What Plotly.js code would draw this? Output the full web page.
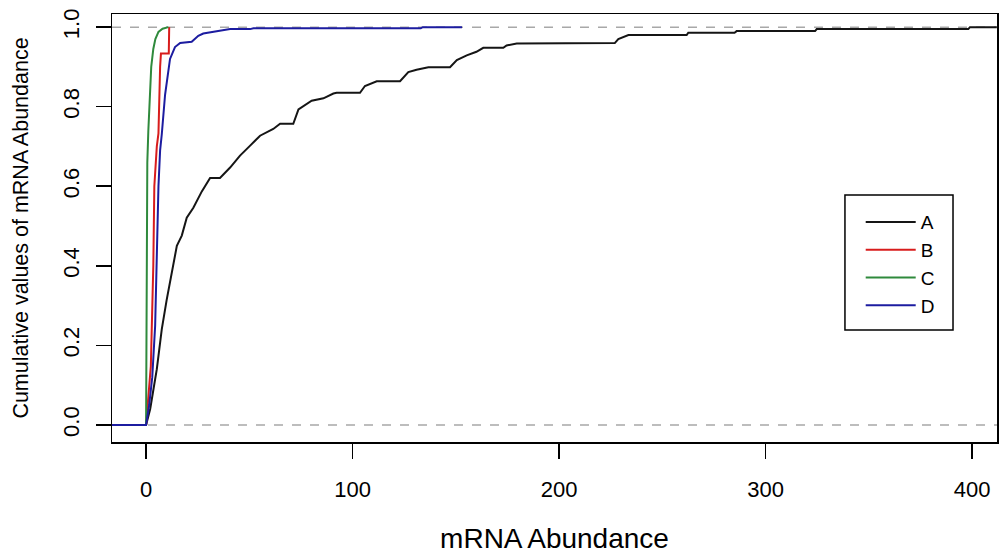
<!DOCTYPE html>
<html>
<head>
<meta charset="utf-8">
<script src="https://cdn.plot.ly/plotly-3.0.1.min.js"></script>
<style>
html, body { margin: 0; padding: 0; background: #ffffff; }
#chart { width: 999px; height: 558px; }
</style>
</head>
<body>
<div id="chart"></div>
<script>
// Series names
const seriesNames = ["A", "B", "C", "D"];

// Series A (black) — cumulative values
const aX = [0, 2, 5.2, 7.6, 10, 12.4, 14.9, 17.3, 19.7, 22.9, 27, 31, 35.8, 40.7, 45.5, 50.4, 55.2, 61.6, 64.9, 71.3, 73.8, 80.2, 85.9, 90.7, 92.3, 103.6, 106, 111.7, 123, 127, 131, 136.7, 147.2, 150.5, 155.3, 160, 163.3, 173, 174.6, 179.5, 227, 228.7, 233.6, 261.8, 262.6, 285, 286, 324, 324.8, 398.2, 399, 412];
const aY = [0, 0.04, 0.14, 0.24, 0.315, 0.385, 0.45, 0.476, 0.521, 0.546, 0.587, 0.621, 0.621, 0.647, 0.677, 0.702, 0.727, 0.744, 0.757, 0.757, 0.793, 0.815, 0.821, 0.833, 0.835, 0.835, 0.852, 0.864, 0.864, 0.887, 0.893, 0.899, 0.899, 0.917, 0.929, 0.938, 0.948, 0.948, 0.954, 0.959, 0.96, 0.97, 0.98, 0.98, 0.986, 0.986, 0.99, 0.99, 0.995, 0.995, 1.0, 1.0];

// Series B (red)
const bX = [0, 0.5, 2.3, 3.5, 4.0, 5.2, 6.0, 6.8, 7.2, 11.0, 11.2];
const bY = [0, 0.03, 0.147, 0.40, 0.60, 0.70, 0.733, 0.90, 0.934, 0.934, 1.0];

// Series C (green)
const cX = [0, 0.1, 0.3, 0.6, 1.1, 1.9, 2.5, 3.5, 4.5, 6.0, 8.0, 10.8];
const cY = [0, 0.1, 0.55, 0.66, 0.74, 0.84, 0.90, 0.945, 0.97, 0.988, 0.996, 1.0];

// Series D (blue)
const dX = [-16.5, 0, 1.5, 3.0, 4.4, 5.2, 6.0, 6.8, 7.6, 9.2, 10.5, 11.6, 14, 16.5, 22.1, 23.7, 25.3, 27.7, 31.8, 35.8, 40.7, 50.4, 52, 133, 134, 153];
const dY = [0, 0, 0.05, 0.12, 0.25, 0.44, 0.60, 0.69, 0.73, 0.83, 0.88, 0.92, 0.95, 0.96, 0.963, 0.971, 0.978, 0.984, 0.988, 0.992, 0.995, 0.995, 0.997, 0.997, 1.0, 1.0];

// Axis ticks
const xTicks = [0, 100, 200, 300, 400];
const xTickText = ["0", "100", "200", "300", "400"];
const yTicks = [0, 0.2, 0.4, 0.6, 0.8, 1.0];
const yTickText = ["0.0", "0.2", "0.4", "0.6", "0.8", "1.0"];

const colors = ["#151515", "#d81c1c", "#2f8a3c", "#1c1ca0"];
const xs = [aX, bX, cX, dX];
const ys = [aY, bY, cY, dY];

const traces = seriesNames.map((n, i) => ({
  type: "scatter",
  mode: "lines",
  name: n,
  x: xs[i],
  y: ys[i],
  line: { color: colors[i], width: 2 },
  hoverinfo: "x+y+name"
}));

const font = "Liberation Sans, Arial, Helvetica, sans-serif";

const layout = {
  width: 999,
  height: 558,
  margin: { l: 112, r: 2, t: 14, b: 116, pad: 0 },
  paper_bgcolor: "#ffffff",
  plot_bgcolor: "#ffffff",
  font: { family: font, color: "#000000" },
  showlegend: true,
  legend: {
    x: 0.846, y: 0.558, xanchor: "left", yanchor: "top",
    bgcolor: "rgba(0,0,0,0)", borderwidth: 0,
    font: { family: font, size: 19, color: "#000000" },
    itemwidth: 50,
    tracegroupgap: 0
  },
  xaxis: {
    range: [-16.5, 412.1],
    tickvals: xTicks, ticktext: xTickText,
    ticks: "outside", ticklen: 15, tickwidth: 1.5, tickcolor: "#000",
    showline: true, linecolor: "#000", linewidth: 1.5, mirror: true,
    showgrid: false, zeroline: false,
    tickfont: { family: font, size: 22, color: "#000" },
    ticklabelstandoff: 12,
    title: { text: "mRNA Abundance", font: { family: font, size: 28, color: "#000" }, standoff: 27 },
    automargin: false
  },
  yaxis: {
    range: [-0.043, 1.033],
    tickvals: yTicks, ticktext: yTickText,
    ticks: "outside", ticklen: 15, tickwidth: 1.5, tickcolor: "#000",
    showline: true, linecolor: "#000", linewidth: 1.5, mirror: true,
    showgrid: false, zeroline: false,
    tickangle: -90,
    tickfont: { family: font, size: 22, color: "#000" },
    ticklabelstandoff: 8,
    title: { text: "Cumulative values of mRNA Abundance", font: { family: font, size: 21.5, color: "#000" }, standoff: 24 },
    automargin: false
  },
  shapes: [
    { type: "line", xref: "paper", yref: "y", x0: 0, x1: 1, y0: 0, y1: 0, layer: "below",
      line: { color: "#a8a8a8", width: 1.5, dash: "dash" } },
    { type: "line", xref: "paper", yref: "y", x0: 0, x1: 1, y0: 1, y1: 1, layer: "below",
      line: { color: "#a8a8a8", width: 1.5, dash: "dash" } },
    { type: "rect", xref: "paper", yref: "paper", x0: 0.8282, x1: 0.9503, y0: 0.2617, y1: 0.5771,
      line: { color: "#000", width: 1.5 }, fillcolor: "rgba(0,0,0,0)" }
  ]
};

Plotly.newPlot("chart", traces, layout, { displayModeBar: false, staticPlot: true });
</script>
</body>
</html>
